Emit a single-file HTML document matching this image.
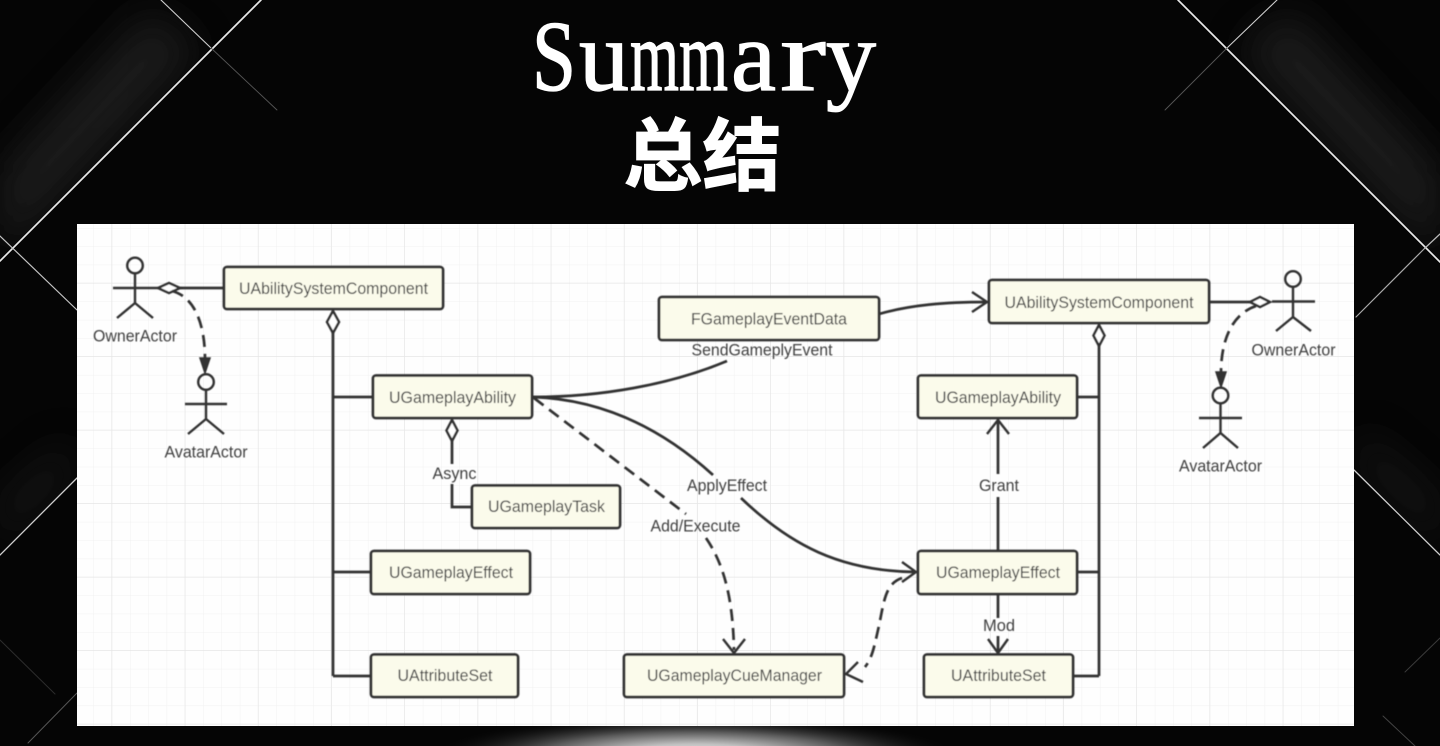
<!DOCTYPE html>
<html lang="en">
<head>
<meta charset="utf-8">
<title>Summary</title>
<style>
html,body{margin:0;padding:0;width:1440px;height:746px;overflow:hidden;background:#050505}
svg{display:block}
.box{fill:#fbfbeb;stroke:#303030;stroke-width:2.8}
.t{font-family:"Liberation Sans",sans-serif;font-size:16.6px;fill:#404040;text-anchor:middle}
.l{fill:none;stroke:#303030;stroke-width:2.7}
.s{fill:none;stroke:#303030;stroke-width:2.4}
.d{fill:none;stroke:#303030;stroke-width:2.7;stroke-dasharray:12 7}
.dm{fill:#fff;stroke:#303030;stroke-width:2.5}
</style>
</head>
<body>
<svg width="1440" height="746" viewBox="0 0 1440 746" xmlns="http://www.w3.org/2000/svg">
<defs>
<pattern id="minor" x="2.400" y="8" width="18.3" height="18.37" patternUnits="userSpaceOnUse"><path d="M18.3 0V18.37M0 18.37H18.3" fill="none" stroke="#f1f1f1" stroke-width="1"/></pattern>
<pattern id="major" x="39" y="63" width="73.2" height="73.5" patternUnits="userSpaceOnUse"><path d="M73.2 0V73.5M0 73.5H73.2" fill="none" stroke="#e6e6e6" stroke-width="1.4"/></pattern>
<radialGradient id="glow" gradientUnits="userSpaceOnUse" cx="0" cy="0" r="1" gradientTransform="translate(695 756) scale(260 40)"><stop offset="0" stop-color="#f4f4f4"/><stop offset="0.3" stop-color="#c0c0c0"/><stop offset="0.6" stop-color="#5a5a5a"/><stop offset="1" stop-color="#111" stop-opacity="0"/></radialGradient>
<clipPath id="cTL"><polygon points="0,0 261,0 0,261"/></clipPath>
<clipPath id="cTR"><polygon points="1440,0 1178,0 1440,262"/></clipPath>
<clipPath id="cBL"><polygon points="0,400 77,400 77,478 0,555"/></clipPath>
<clipPath id="cBR"><polygon points="1440,400 1354,400 1354,470 1440,555"/></clipPath>
<filter id="soft"><feGaussianBlur stdDeviation="0.45"/></filter>
<filter id="blur" x="-50%" y="-50%" width="200%" height="200%"><feGaussianBlur stdDeviation="20"/></filter>
</defs>

<rect width="1440" height="746" fill="#050505"/>

<!-- background bands -->
<g clip-path="url(#cTL)"><polygon points="0,260 200,50 150,10 0,170" fill="#2a2a2a" filter="url(#blur)" opacity=".6"/></g>
<g clip-path="url(#cTR)"><polygon points="1440,260 1240,50 1290,10 1440,170" fill="#2a2a2a" filter="url(#blur)" opacity=".6"/></g>
<g clip-path="url(#cBL)"><polygon points="0,545 70,480 70,440 0,500" fill="#262626" filter="url(#blur)" opacity=".5"/></g>
<g clip-path="url(#cBR)"><polygon points="1440,545 1360,470 1360,430 1440,500" fill="#262626" filter="url(#blur)" opacity=".5"/></g>

<!-- background lines -->
<g fill="none" stroke-linecap="round">
<path d="M0 261L261 0" stroke="#e8e8e8" stroke-width="1.7"/>
<path d="M161 0L211 48" stroke="#cfcfcf" stroke-width="1.1"/>
<path d="M211 48L277 110" stroke="#555" stroke-width=".9"/>
<path d="M0 236L77 310" stroke="#c4c4c4" stroke-width="1.2"/>
<path d="M0 555L77 478" stroke="#cfcfcf" stroke-width="1.3"/>
<path d="M0 640L55 694" stroke="#2c2c2c" stroke-width="1"/>
<path d="M28 743L77 693" stroke="#555" stroke-width="1"/>
<path d="M1178 0L1440 262" stroke="#e8e8e8" stroke-width="1.7"/>
<path d="M1277 0L1227 48" stroke="#cfcfcf" stroke-width="1.1"/>
<path d="M1227 48L1165 110" stroke="#555" stroke-width=".9"/>
<path d="M1425 248L1356 317" stroke="#aaa" stroke-width="1.2"/>
<path d="M1425 248L1440 234" stroke="#bbb" stroke-width="1.2"/>
<path d="M1354 470L1440 555" stroke="#cfcfcf" stroke-width="1.3"/>
<path d="M1440 638L1405 672" stroke="#3a3a3a" stroke-width="1"/>
<path d="M1383 716L1415 746" stroke="#444" stroke-width="1"/>
</g>

<!-- bottom glow -->
<rect x="400" y="726" width="640" height="20" fill="url(#glow)"/>

<!-- title -->
<text y="90" fill="#fff" stroke="#fff" stroke-width="1.3" style="font-family:'Liberation Serif',serif;font-size:101px"><tspan x="532" textLength="44" lengthAdjust="spacingAndGlyphs">S</tspan><tspan x="579" textLength="50" lengthAdjust="spacingAndGlyphs">u</tspan><tspan x="630" textLength="49" lengthAdjust="spacingAndGlyphs">m</tspan><tspan x="679" textLength="49" lengthAdjust="spacingAndGlyphs">m</tspan><tspan x="731" textLength="45" lengthAdjust="spacingAndGlyphs">a</tspan><tspan x="780" textLength="46" lengthAdjust="spacingAndGlyphs">r</tspan><tspan x="826" textLength="50" lengthAdjust="spacingAndGlyphs">y</tspan></text>
<text x="702.5" y="184" fill="#fff" text-anchor="middle" style="font-family:'Liberation Sans','Noto Sans CJK SC',sans-serif;font-size:79px;font-weight:700" stroke="#fff" stroke-width="1">总结</text>

<!-- panel -->
<rect x="77" y="224" width="1277" height="502" fill="#fefefe"/>
<rect x="77" y="224" width="1277" height="502" fill="url(#minor)"/>
<rect x="77" y="224" width="1277" height="502" fill="url(#major)"/>

<g filter="url(#soft)">
<!-- connectors left -->
<path class="l" d="M333 333V676M333 397H373M333 572H371M333 676H371"/>
<path class="l" d="M180 288H224"/>
<path class="dm" d="M333 311L339 322L333 333L327 322Z"/>
<path class="dm" d="M158 288L169 283L180 288L169 293Z"/>
<path class="d" d="M172 291C195 297 205 325 205 359"/>
<path d="M205 373L200 358H210Z" fill="#303030" stroke="#303030" stroke-width="1.5"/>
<path class="l" d="M452 441V464M452 484V507H472"/>
<path class="dm" d="M452 420L457.500 430.500L452 441L446.500 430.500Z"/>

<!-- curves -->
<path class="l" d="M533 397C600 397 670 385 727 361"/>
<path class="l" d="M533 397C620 400 680 445 713 475"/>
<path class="l" d="M741 498C790 545 840 571 915 572"/>
<path class="s" d="M902 562L916 572L902 582"/>
<path class="d" d="M534 398L686 514"/>
<path class="d" d="M706 538C728 570 733 610 734 650"/>
<path class="s" d="M723 639L734 653L745 639"/>
<path class="d" d="M902 578C884 584 884 604 878 630C874 648 872 658 865 667"/>
<path class="s" d="M858 662L846 674L863 682"/>
<path class="l" d="M879 314C910 305 945 302 987 302"/>
<path class="s" d="M972 292L987 302L972 312"/>

<!-- connectors right -->
<path class="l" d="M1099 346V676M1077 397H1099M1077 572H1099M1073 676H1099"/>
<path class="dm" d="M1099 325L1104.500 335.500L1099 346L1093.500 335.500Z"/>
<path class="l" d="M1209 302H1251"/>
<path class="dm" d="M1250 302L1260 297L1270 302L1260 307Z"/>
<path class="d" d="M1256 306C1232 314 1221 340 1221 373"/>
<path d="M1221 387L1216 372H1226Z" fill="#303030" stroke="#303030" stroke-width="1.5"/>
<path class="l" d="M998 421V474M998 497V551"/>
<path class="s" d="M987 434L998 420L1009 434"/>
<path class="l" d="M998 594V618M998 636V652"/>
<path class="s" d="M988 639L998 653L1008 639"/>

<!-- actors -->
<g class="s">
<circle cx="135" cy="265.500" r="7.800"/><path d="M135 273V303M113 288H158M117 318L135 303L153 318"/>
<circle cx="206" cy="382" r="7.800"/><path d="M206 390V419M185 404H227M188 434L206 419L224 434"/>
<circle cx="1293" cy="279" r="7.800"/><path d="M1293 287V317M1272 301.500H1315M1276 331L1293 317L1311 331"/>
<circle cx="1220.500" cy="395.500" r="7.800"/><path d="M1220.500 403V433M1199 418H1242M1203 448L1220.500 433L1238 448"/>
</g>

<!-- boxes -->
<rect class="box" x="224" y="267" width="219" height="42" rx="3"/>
<rect class="box" x="373" y="375.500" width="159" height="42.500" rx="3"/>
<rect class="box" x="472" y="485.500" width="148" height="42.500" rx="3"/>
<rect class="box" x="371" y="551" width="159" height="43" rx="3"/>
<rect class="box" x="371" y="654.500" width="147" height="42.500" rx="3"/>
<rect class="box" x="659" y="297" width="220" height="43" rx="3"/>
<rect class="box" x="624" y="654.500" width="220" height="42.500" rx="3"/>
<rect class="box" x="918" y="551" width="159" height="43" rx="3"/>
<rect class="box" x="924" y="654.500" width="149" height="42.500" rx="3"/>
<rect class="box" x="989" y="280" width="220" height="43" rx="3"/>
<rect class="box" x="918" y="375.500" width="159" height="42.500" rx="3"/>

<!-- box labels -->
<text class="t" x="333.500" y="294" textLength="189" lengthAdjust="spacingAndGlyphs">UAbilitySystemComponent</text>
<text class="t" x="452.500" y="403" textLength="127" lengthAdjust="spacingAndGlyphs">UGameplayAbility</text>
<text class="t" x="546.500" y="512" textLength="117" lengthAdjust="spacingAndGlyphs">UGameplayTask</text>
<text class="t" x="451" y="578" textLength="124" lengthAdjust="spacingAndGlyphs">UGameplayEffect</text>
<text class="t" x="445" y="681" textLength="95" lengthAdjust="spacingAndGlyphs">UAttributeSet</text>
<text class="t" x="769" y="324.500" textLength="156" lengthAdjust="spacingAndGlyphs">FGameplayEventData</text>
<text class="t" x="734.500" y="681" textLength="175" lengthAdjust="spacingAndGlyphs">UGameplayCueManager</text>
<text class="t" x="998" y="578" textLength="124" lengthAdjust="spacingAndGlyphs">UGameplayEffect</text>
<text class="t" x="998.500" y="681" textLength="95" lengthAdjust="spacingAndGlyphs">UAttributeSet</text>
<text class="t" x="1099" y="308" textLength="189" lengthAdjust="spacingAndGlyphs">UAbilitySystemComponent</text>
<text class="t" x="998" y="403" textLength="126" lengthAdjust="spacingAndGlyphs">UGameplayAbility</text>

<!-- edge and actor labels -->
<text class="t" x="135" y="341.500" textLength="84" lengthAdjust="spacingAndGlyphs">OwnerActor</text>
<text class="t" x="206" y="457.500" textLength="83" lengthAdjust="spacingAndGlyphs">AvatarActor</text>
<text class="t" x="1293.500" y="355.500" textLength="84" lengthAdjust="spacingAndGlyphs">OwnerActor</text>
<text class="t" x="1220.500" y="471.500" textLength="83" lengthAdjust="spacingAndGlyphs">AvatarActor</text>
<text class="t" x="762" y="355.500" textLength="141" lengthAdjust="spacingAndGlyphs">SendGameplyEvent</text>
<text class="t" x="454.500" y="479" textLength="44" lengthAdjust="spacingAndGlyphs">Async</text>
<text class="t" x="727" y="491" textLength="80" lengthAdjust="spacingAndGlyphs">ApplyEffect</text>
<text class="t" x="695.500" y="531.500" textLength="90" lengthAdjust="spacingAndGlyphs">Add/Execute</text>
<text class="t" x="999" y="491" textLength="40" lengthAdjust="spacingAndGlyphs">Grant</text>
<text class="t" x="999" y="631" textLength="32" lengthAdjust="spacingAndGlyphs">Mod</text>
</g>
</svg>
</body>
</html>
